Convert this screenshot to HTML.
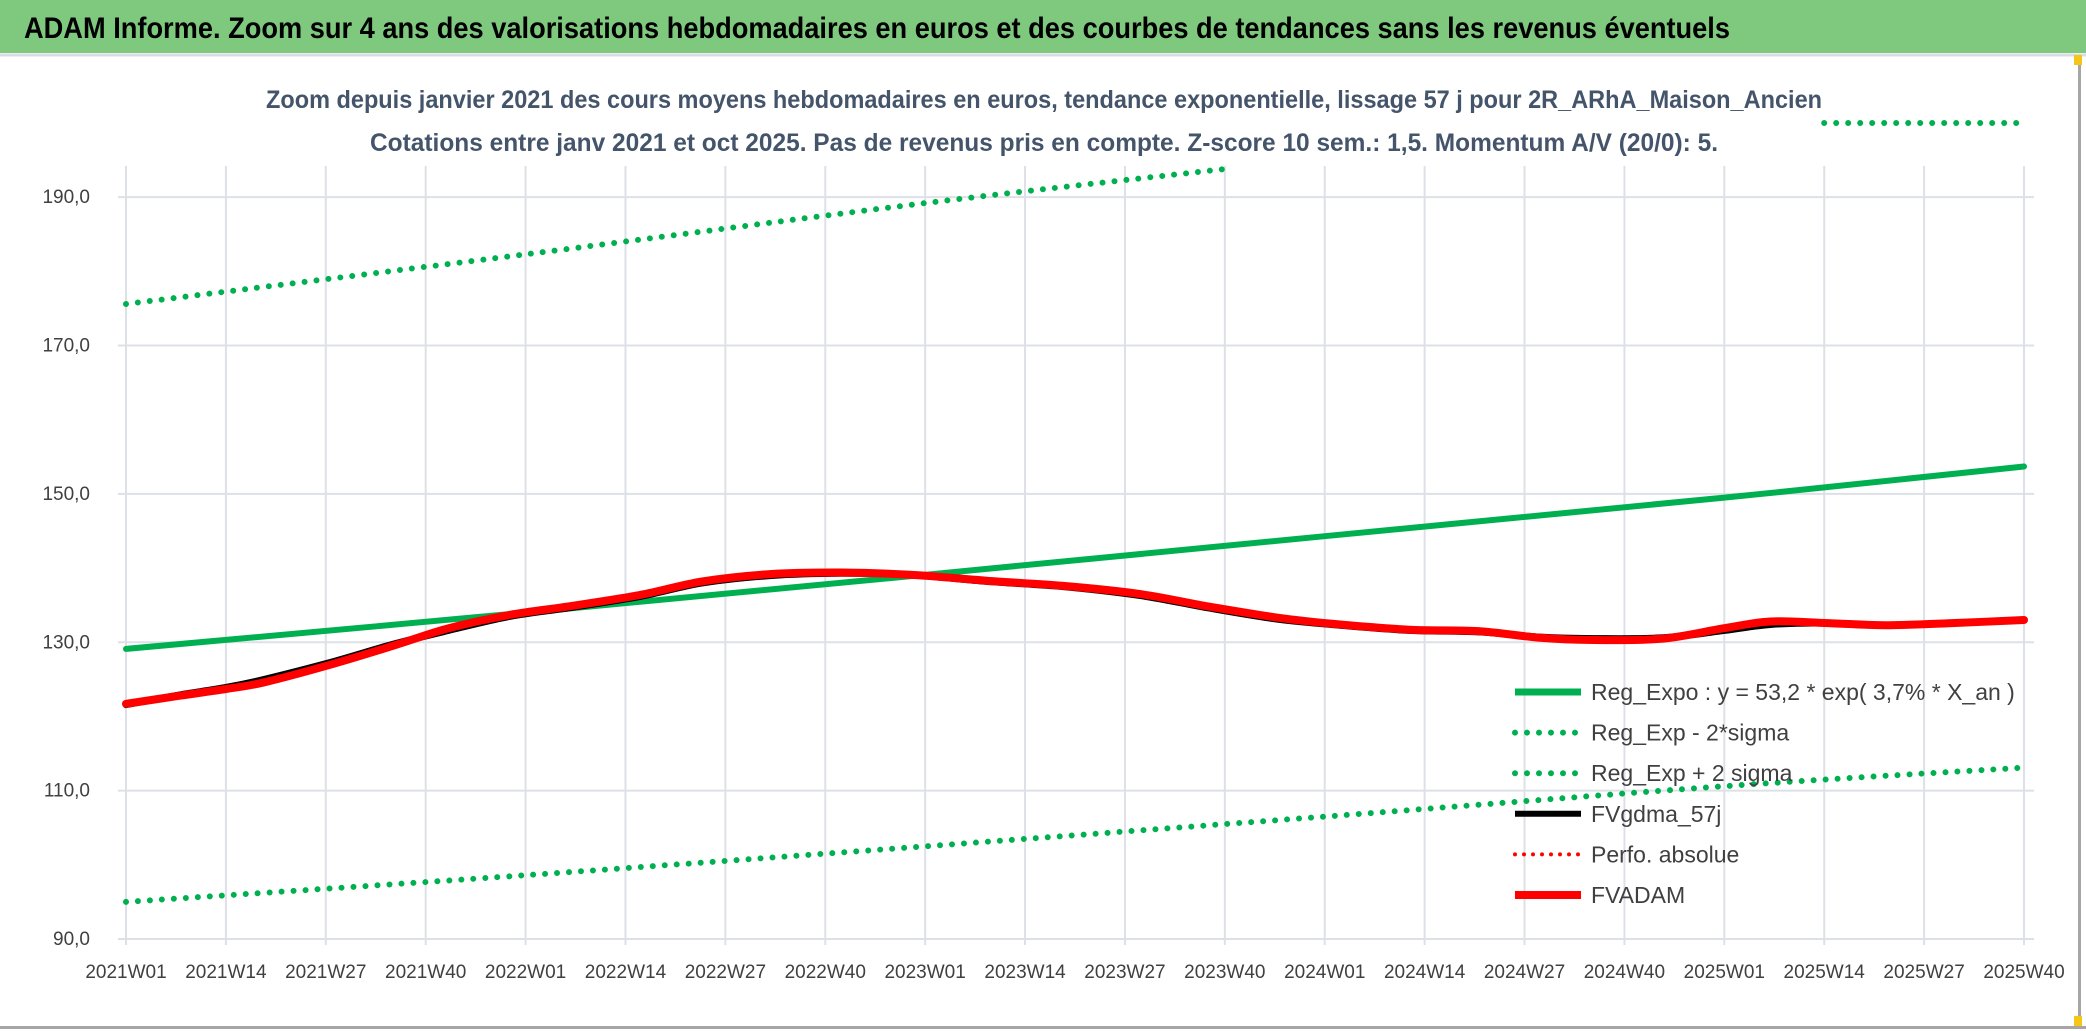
<!DOCTYPE html>
<html><head><meta charset="utf-8"><style>
html,body{margin:0;padding:0;background:#fff;}
svg{display:block;font-family:"Liberation Sans",sans-serif;}
</style></head><body>
<svg id="chart" width="2086" height="1031" viewBox="0 0 2086 1031">
<rect x="0" y="0" width="2086" height="1031" fill="#fff"/>
<rect x="0" y="0" width="2086" height="53" fill="#7fc97f"/>
<line x1="0" y1="55" x2="2086" y2="55" stroke="#d9dde3" stroke-width="3"/>
<text x="24" y="38" font-size="30" font-weight="bold" fill="#000" textLength="1706" lengthAdjust="spacingAndGlyphs">ADAM Informe. Zoom sur 4 ans des valorisations hebdomadaires en euros et des courbes de tendances sans les revenus éventuels</text>
<rect x="2078" y="55" width="3" height="972" fill="#a6a6a6"/>
<rect x="0" y="1026" width="2086" height="3" fill="#a6a6a6"/>
<rect x="2074" y="55" width="8" height="10" fill="#f5c518"/>
<rect x="2074" y="1016" width="8" height="10" fill="#f5c518"/>
<g id="grid"></g>
<g id="series"></g>
<text x="1044" y="108" font-size="25" font-weight="bold" fill="#44546a" text-anchor="middle" textLength="1556" lengthAdjust="spacingAndGlyphs">Zoom depuis janvier 2021 des cours moyens hebdomadaires en euros, tendance exponentielle, lissage 57 j pour 2R_ARhA_Maison_Ancien</text>
<text x="1044" y="151" font-size="25" font-weight="bold" fill="#44546a" text-anchor="middle" textLength="1348" lengthAdjust="spacingAndGlyphs">Cotations entre janv 2021 et oct 2025. Pas de revenus pris en compte. Z-score 10 sem.: 1,5. Momentum A/V (20/0): 5.</text>
<g id="axes"></g>
<g id="legend"></g>
</svg>
<script>
const xLabels=["2021W01","2021W14","2021W27","2021W40","2022W01","2022W14","2022W27","2022W40","2023W01","2023W14","2023W27","2023W40","2024W01","2024W14","2024W27","2024W40","2025W01","2025W14","2025W27","2025W40"];
const yTicks=[90,110,130,150,170,190];
const adamWeeks=[0,7,13,18,27,35,42,50,58,67,75,84,93,102,112,122,132,141,150,158,167,176,184,191,200,208,214,221,229,238,247];
const adamValues=[121.7,122.8,123.7,124.6,127.1,129.6,131.9,133.7,134.9,136.4,138.2,139.2,139.4,139.1,138.3,137.6,136.5,134.8,133.3,132.4,131.7,131.5,130.6,130.3,130.5,131.9,132.8,132.6,132.3,132.6,133.0];
const gdmaValues=[121.6,122.9,123.9,125.0,127.4,129.8,131.6,133.5,134.7,136.2,138.0,139.0,139.3,139.1,138.2,137.5,136.3,134.6,133.1,132.3,131.6,131.4,130.7,130.5,130.6,131.6,132.4,132.6,132.3,132.6,133.0];
const trendWeeks=[0,52,104,156,208,247];
const trendValues=[129.1,134.0,139.1,144.3,149.5,153.7];
const lowerValues=[95.0,98.6,102.5,106.5,110.6,113.1];
const upperWeeks=[0,52,104,143];
const upperValues=[175.6,182.3,189.2,193.8];
const upperCapWeeks=[221,247];
const upperCapValues=[200,200];
const legendLabels=["Reg_Expo : y = 53,2 * exp( 3,7% *  X_an )","Reg_Exp - 2*sigma","Reg_Exp + 2 sigma","FVgdma_57j","Perfo. absolue","FVADAM"];

const NS="http://www.w3.org/2000/svg";
const X0=126,X1=2024,Y0=939,YTOP=123,WMAX=247,VMIN=90,VMAX=200;
const xs=w=>X0+(X1-X0)*w/WMAX;
const ys=v=>Y0-(Y0-YTOP)*(v-VMIN)/(VMAX-VMIN);
function mk(tag,attrs,parent){const e=document.createElementNS(NS,tag);for(const k in attrs)e.setAttribute(k,attrs[k]);parent.appendChild(e);return e;}
const grid=document.getElementById('grid'),axes=document.getElementById('axes'),series=document.getElementById('series'),legend=document.getElementById('legend');

yTicks.forEach(v=>{
  const l=mk('line',{x1:X0-8,x2:X1+10,y1:ys(v),y2:ys(v),stroke:'#dde1e7','stroke-width':2},grid);
  
  
  const t=mk('text',{x:90,y:ys(v)+6,'font-size':19,fill:'#404040','text-anchor':'end'},axes);
  t.textContent=v.toFixed(1).replace('.',',');
  
  
});
xLabels.forEach((lab,i)=>{
  const w=i*13;
  const l=mk('line',{x1:xs(w),x2:xs(w),y1:166,y2:Y0+6,stroke:'#dde1e7','stroke-width':2},grid);
  
  
  const t=mk('text',{x:xs(w),y:978,'font-size':19,fill:'#404040','text-anchor':'middle'},axes);
  t.textContent=lab;
  
  
});
function path(weeks,vals,attrs,name,smooth){
  const P=weeks.map((w,i)=>[xs(w),ys(vals[i])]);
  let d='M'+P[0][0].toFixed(1)+','+P[0][1].toFixed(1);
  for(let i=0;i<P.length-1;i++){
    if(!smooth){d+='L'+P[i+1][0].toFixed(1)+','+P[i+1][1].toFixed(1);continue;}
    const p0=P[Math.max(0,i-1)],p1=P[i],p2=P[i+1],p3=P[Math.min(P.length-1,i+2)];
    const c1=[p1[0]+(p2[0]-p0[0])/6,p1[1]+(p2[1]-p0[1])/6];
    const c2=[p2[0]-(p3[0]-p1[0])/6,p2[1]-(p3[1]-p1[1])/6];
    d+='C'+c1[0].toFixed(1)+','+c1[1].toFixed(1)+' '+c2[0].toFixed(1)+','+c2[1].toFixed(1)+' '+p2[0].toFixed(1)+','+p2[1].toFixed(1);
  }
  const p=mk('path',Object.assign({d:d,fill:'none','stroke-linejoin':'round','stroke-linecap':'round'},attrs),series);
  
  
}
const dot={stroke:'#00b050','stroke-width':6,'stroke-dasharray':'0 12'};
path(trendWeeks,lowerValues,dot,'reg-exp-minus-2-sigma-line',true);
path(upperWeeks,upperValues,dot,'reg-exp-plus-2-sigma-line',true);
path(upperCapWeeks,upperCapValues,dot,'reg-exp-plus-2-sigma-capped-line',false);
path(trendWeeks,trendValues,{stroke:'#00b050','stroke-width':6},'reg-expo-trend-line',true);
path(adamWeeks,gdmaValues,{stroke:'#000','stroke-width':7},'fvgdma-57j-line',true);
path(adamWeeks,adamValues,{stroke:'#ff0000','stroke-width':8},'fvadam-line',true);

const legStyles=[
 {stroke:'#00b050','stroke-width':7},
 {stroke:'#00b050','stroke-width':6,'stroke-dasharray':'0 12','stroke-linecap':'round'},
 {stroke:'#00b050','stroke-width':6,'stroke-dasharray':'0 12','stroke-linecap':'round'},
 {stroke:'#000','stroke-width':6},
 {stroke:'#ff0000','stroke-width':4,'stroke-dasharray':'0 9','stroke-linecap':'round'},
 {stroke:'#ff0000','stroke-width':8}];
legendLabels.forEach((lab,i)=>{
  const y=692+i*40.6;
  const l=mk('line',Object.assign({x1:1515,x2:1581,y1:y,y2:y},legStyles[i]),legend);
  
  
  const t=mk('text',{x:1591,y:y+8,'font-size':23,fill:'#404040'},legend);
  t.textContent=lab;
  
  
});
</script>
</body></html>
